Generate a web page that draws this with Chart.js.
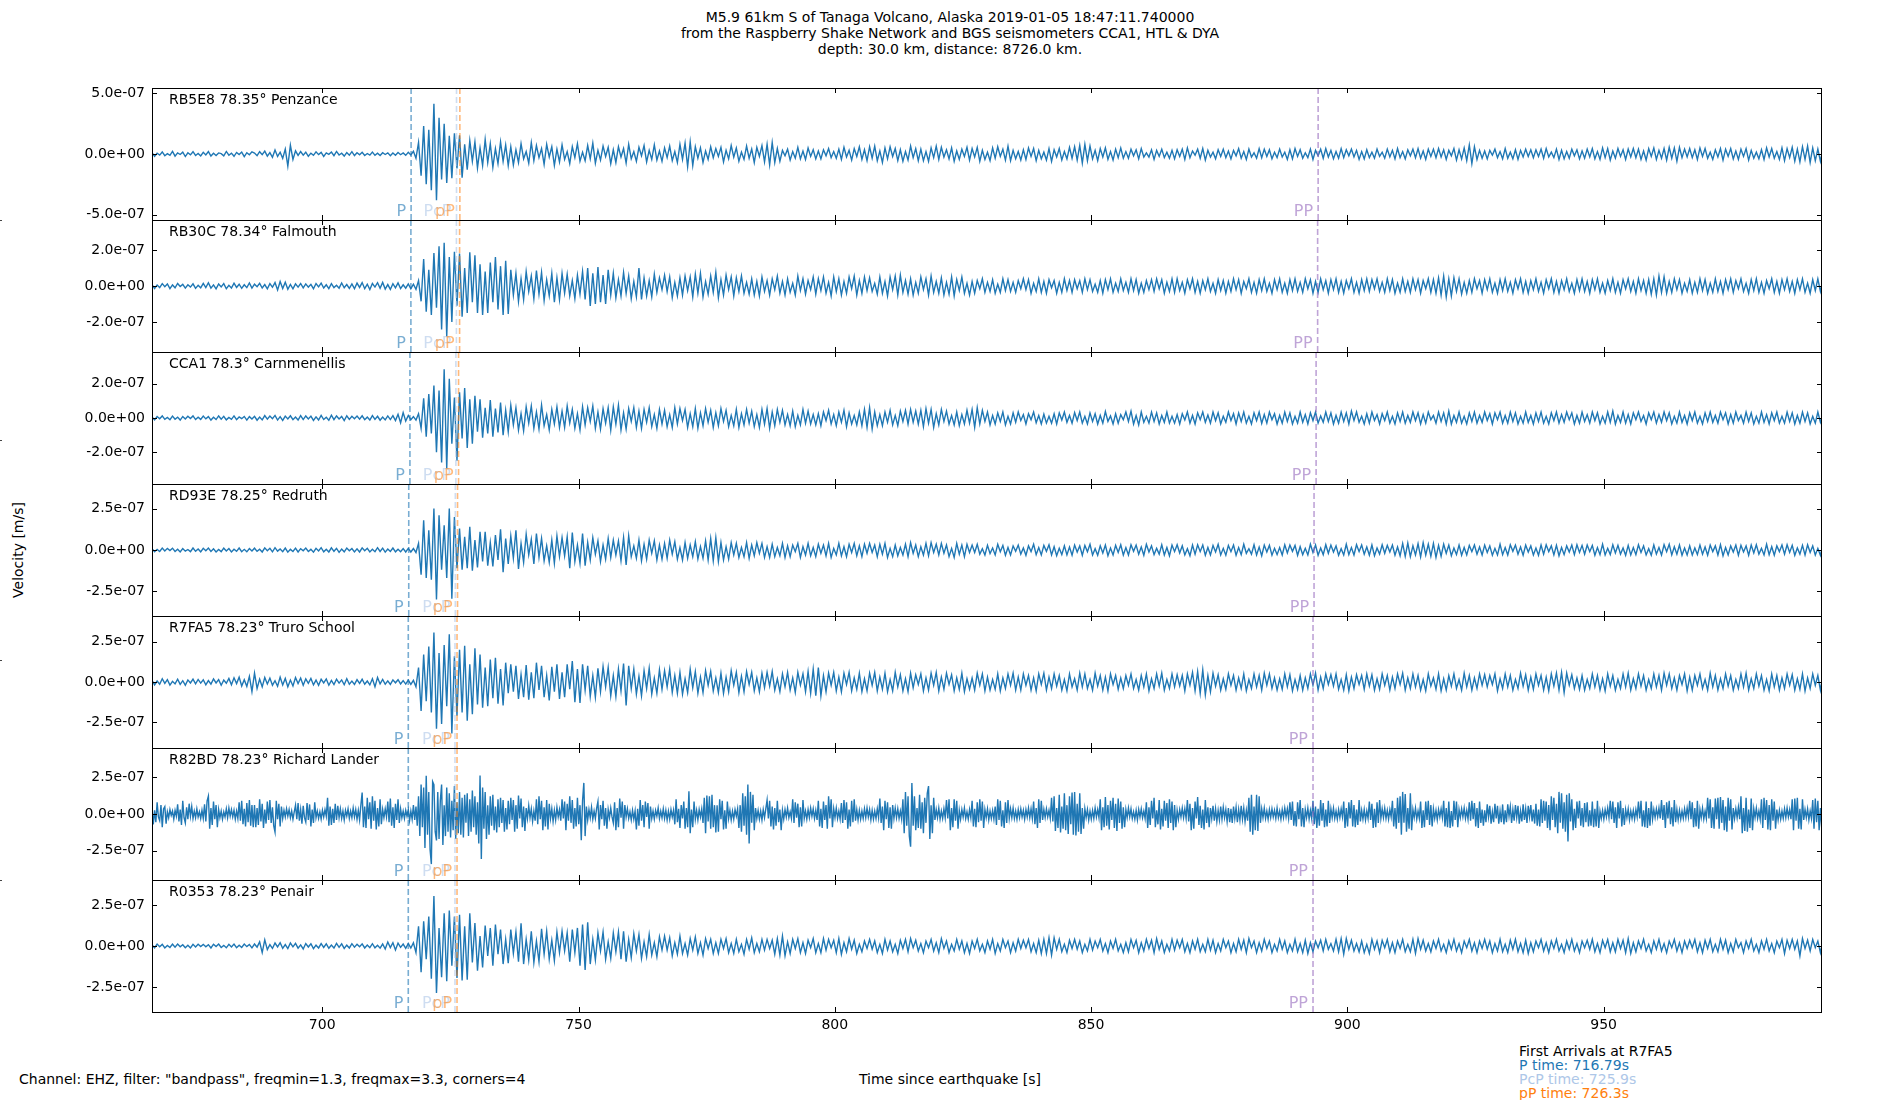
<!DOCTYPE html>
<html>
<head>
<meta charset="utf-8">
<script src="https://cdn.jsdelivr.net/npm/chart.js"></script>
<style>
html,body{margin:0;padding:0;background:#fff;}
#fig{position:relative;width:1900px;height:1100px;overflow:hidden;background:#fff;font-family:"DejaVu Sans",sans-serif;color:#000;}
.t{position:absolute;font-size:14px;white-space:nowrap;line-height:14px;}
.mk{position:absolute;left:0;width:2px;height:1px;background:#444;}
canvas{position:absolute;left:0;}
</style>
</head>
<body>
<div id="fig">
  <div class="t" style="left:0;width:1900px;top:9px;text-align:center;line-height:16px">M5.9 61km S of Tanaga Volcano, Alaska 2019-01-05 18:47:11.740000<br>from the Raspberry Shake Network and BGS seismometers CCA1, HTL &amp; DYA<br>depth: 30.0 km, distance: 8726.0 km.</div>
  <div class="t" style="left:18px;top:550px;transform:translate(-50%,-50%) rotate(-90deg);">Velocity [m/s]</div>
  <div class="t" style="left:19px;top:1072px;">Channel: EHZ, filter: "bandpass", freqmin=1.3, freqmax=3.3, corners=4</div>
  <div class="t" style="left:950px;top:1072px;transform:translateX(-50%);">Time since earthquake [s]</div>
  <div class="t" style="left:1519px;top:1044px;">First Arrivals at R7FA5</div>
  <div class="t" style="left:1519px;top:1058px;color:#1f77b4">P time: 716.79s</div>
  <div class="t" style="left:1519px;top:1072px;color:#aec7e8">PcP time: 725.9s</div>
  <div class="t" style="left:1519px;top:1086px;color:#ff7f0e">pP time: 726.3s</div>
  <div class="mk" style="top:220px"></div>
  <div class="mk" style="top:440px"></div>
  <div class="mk" style="top:660px"></div>
  <div class="mk" style="top:880px"></div>
</div>
<script>
// ---- sampling of the traces (seconds since origin) ----
const startTime = 666.79;
const sampleIntervals = [0.5, 0.5, 0.5, 0.5, 0.5, 0.25, 0.5];
const xMin = 666.79;
const xMax = 992.6;
const xTickValues = [700, 750, 800, 850, 900, 950];

// ---- station labels ----
const stationLabels = [
  "RB5E8 78.35° Penzance",
  "RB30C 78.34° Falmouth",
  "CCA1 78.3° Carnmenellis",
  "RD93E 78.25° Redruth",
  "R7FA5 78.23° Truro School",
  "R82BD 78.23° Richard Lander",
  "R0353 78.23° Penair"
];

// ---- y limits and ticks (m/s) ----
const yLimits = [5.45e-7, 3.66e-7, 3.86e-7, 4.0e-7, 4.1e-7, 4.48e-7, 4.02e-7];
const yTickSteps = [5e-7, 2e-7, 2e-7, 2.5e-7, 2.5e-7, 2.5e-7, 2.5e-7];

// ---- phase arrival times per station (s) ----
const pTimes   = [717.34, 717.30, 717.11, 716.88, 716.79, 716.79, 716.79];
const pcpTimes = [726.20, 726.18, 726.08, 725.97, 725.90, 725.90, 725.90];
const ppDepthTimes = [726.85, 726.80, 726.60, 726.40, 726.30, 726.30, 726.30];
const ppTimes  = [894.3, 894.2, 893.9, 893.5, 893.3, 893.3, 893.3];

// ---- velocity traces, units of 1e-9 m/s ----
const rb5e8 = [
12,-20,6,-9,17,-14,3,-11,22,-18,9,-4,15,-21,10,-7,19,-12,5,-16,
14,-8,20,-17,6,-12,9,3,-15,21,-10,7,-19,13,-5,16,-22,11,-6,18,
8,-14,19,-6,24,-18,12,-27,33,-20,15,-36,40,-100,72,-45,26,-12,20,-9,
15,-19,7,-11,18,-5,13,-20,9,-3,16,-14,21,-8,6,-17,12,-10,19,-13,
10,-6,14,-12,4,-9,16,-11,7,-13,11,-4,9,-15,8,-10,12,-6,9,-11,
14,-8,22,-35,95,-180,230,-250,200,-300,415,-382,300,-210,250,-240,150,-200,170,-120,
155,-195,80,-130,110,-60,100,-115,50,-95,120,-70,85,-110,45,-80,100,-60,75,-95,
60,-90,35,-70,85,-40,20,-75,95,-55,70,-30,45,-85,80,-25,60,-95,40,-65,
75,-45,20,-80,60,-30,85,-60,15,-55,70,-40,90,-75,30,-50,65,-20,55,-80,
35,-70,60,-25,45,-75,80,-40,20,-60,55,-15,70,-65,30,-45,75,-50,25,-60,
50,-30,65,-55,20,-70,80,-45,90,-105,100,-95,60,-35,50,-70,25,-45,60,-30,
45,-20,55,-65,30,-40,70,-25,50,-60,15,-45,65,-35,40,-70,55,-20,70,-65,
80,-90,95,-70,45,-60,30,-15,40,-50,20,-35,55,-40,25,-45,50,-20,35,-40,
25,-40,35,-15,45,-30,20,-35,40,-45,55,-25,30,-50,45,-20,60,-45,35,-55,
60,-35,65,-55,25,-70,50,-40,60,-20,45,-55,35,-60,20,-50,65,-30,45,-55,
40,-55,20,-60,50,-30,65,-45,55,-25,35,-40,50,-60,25,-45,40,-20,55,-50,
45,-25,55,-60,30,-45,15,-55,50,-35,60,-20,40,-50,65,-55,30,-40,20,-50,
35,-45,50,-20,45,-55,30,-40,15,-50,45,-60,35,-25,45,-50,20,-40,55,-35,
60,-50,70,-75,80,-55,65,-40,30,-55,45,-25,50,-45,20,-50,40,-30,50,-35,
20,-35,40,-15,35,-40,45,-25,10,-25,35,-45,30,-20,40,-30,15,-35,30,-40,
35,-20,40,-45,50,-30,25,-10,40,-35,45,-50,30,-25,15,-40,35,-20,40,-30,
25,-40,30,-15,45,-35,20,-45,40,-25,10,-35,45,-30,40,-20,35,-40,15,-30,
40,-25,15,-45,35,-40,45,-20,35,-35,10,-30,40,-45,30,-15,40,-35,45,-25,
30,-40,20,-35,45,-30,35,-15,40,-25,30,-45,20,-40,35,-30,15,-35,40,-20,
15,-35,40,-25,30,-40,45,-30,20,-40,35,-15,40,-30,45,-35,25,-45,40,-20,
40,-30,45,-25,35,-45,30,-15,45,-50,35,-40,50,-55,75,-80,60,-45,30,-35,
25,-40,30,-10,40,-30,20,-40,45,-35,15,-40,35,-45,30,-25,40,-20,35,-30,
35,-20,40,-35,45,-25,15,-30,40,-45,30,-40,20,-35,40,-15,35,-40,25,-35,
40,-25,45,-40,20,-45,50,-30,45,-50,25,-35,45,-20,35,-45,40,-25,45,-30,
40,-45,25,-50,45,-20,50,-45,30,-35,45,-50,55,-35,50,-60,55,-30,40,-25,
45,-30,35,-45,50,-20,45,-35,15,-45,35,-25,45,-50,40,-20,45,-40,25,-45,
40,-20,45,-50,30,-35,15,-40,35,-45,50,-25,45,-35,20,-45,50,-55,45,-30,
55,-60,40,-65,60,-45,65,-70,50,-55,40,-60,45
];

const rb30c = [
8,-14,5,-9,13,-4,11,-15,6,-10,14,-3,9,-12,7,-6,12,-13,4,-10,
15,-9,18,-12,6,-16,11,-5,13,-15,4,-11,16,-8,10,-13,7,-9,17,-12,
10,-4,15,-11,8,-16,13,-7,19,-22,25,-14,21,-18,9,-16,12,-6,14,-10,
12,-6,9,-15,14,-5,16,-11,7,-14,13,-9,4,-12,17,-10,8,-13,11,-15,
16,-8,19,-15,10,-20,14,-6,18,-13,20,-17,8,-19,13,-10,17,-14,7,-12,
12,-15,10,-18,30,-85,150,-143,90,-160,183,-120,220,-241,240,-280,160,-200,190,-110,
180,-170,100,-150,187,-90,170,-150,120,-160,80,-150,130,-90,160,-130,110,-160,140,-155,
90,-50,70,-85,40,-75,80,-30,55,-70,85,-45,75,-80,35,-55,70,-90,45,-75,
70,-40,65,-55,30,-70,60,-45,80,-75,100,-110,70,-100,105,-90,60,-100,90,-50,
70,-65,35,-55,75,-40,55,-70,25,-60,100,-75,45,-55,30,-60,65,-35,45,-20,
60,-30,50,-65,20,-55,45,-50,55,-25,50,-60,65,-40,70,-60,25,-45,55,-35,
75,-65,35,-50,60,-20,50,-55,45,-30,55,-40,20,-45,40,-50,25,-55,50,-30,
30,-50,40,-20,55,-40,25,-50,40,-35,15,-50,55,-25,40,-45,30,-20,50,-45,
40,-25,50,-40,20,-55,50,-30,40,-50,25,-40,50,-15,55,-50,30,-40,50,-25,
45,-30,15,-45,50,-40,25,-55,50,-20,55,-50,60,-35,30,-45,40,-50,20,-40,
50,-20,40,-50,55,-35,25,-40,45,-50,20,-45,50,-55,35,-25,50,-40,15,-50,
25,-40,30,-15,40,-35,20,-30,35,-40,10,-35,40,-25,35,-30,20,-35,30,-15,
40,-20,35,-40,15,-30,40,-35,25,-40,35,-10,30,-40,20,-35,40,-25,30,-35,
35,-15,30,-35,40,-20,35,-30,10,-35,30,-40,35,-20,40,-35,15,-30,40,-25,
20,-35,40,-25,35,-40,15,-35,30,-20,35,-30,40,-15,35,-40,20,-30,40,-35,
40,-25,20,-40,35,-15,40,-35,25,-40,30,-20,40,-30,15,-40,35,-25,30,-40,
25,-30,40,-20,35,-40,25,-15,40,-35,20,-40,35,-25,40,-30,15,-40,35,-20,
40,-35,15,-40,35,-25,40,-30,20,-35,40,-15,35,-40,25,-35,40,-20,30,-40,
35,-20,40,-35,25,-40,30,-15,40,-35,20,-40,35,-25,40,-30,35,-15,40,-30,
20,-35,40,-25,35,-40,15,-35,40,-30,25,-35,40,-20,35,-40,30,-15,40,-35,
35,-40,45,-50,55,-60,40,-55,45,-30,40,-45,20,-40,30,-35,40,-15,30,-40,
35,-20,40,-35,15,-40,35,-25,40,-30,20,-40,35,-15,40,-35,25,-40,30,-20,
40,-30,20,-40,35,-15,40,-35,25,-40,30,-20,40,-30,15,-40,35,-25,40,-30,
25,-40,35,-20,40,-35,15,-40,30,-25,40,-35,20,-40,35,-15,40,-30,25,-40,
40,-25,30,-40,35,-45,40,-50,55,-35,50,-40,25,-35,40,-20,35,-40,15,-30,
35,-40,20,-35,40,-25,35,-40,15,-35,40,-30,25,-40,35,-20,40,-35,30,-15,
40,-30,15,-40,35,-25,40,-35,20,-40,30,-15,40,-35,25,-40,35,-20,40,-30,
25,-40,35,-20,40,-35,15,-40,35,-25,40,-30,35
];

const cca1 = [
6,-11,9,-4,12,-8,3,-10,11,-7,5,-12,9,-6,10,-3,12,-9,5,-8,
11,-5,8,-12,4,-9,12,-7,10,-11,3,-8,12,-10,6,-4,9,-12,8,-6,
10,-13,5,-11,14,-7,12,-4,15,-12,8,-14,11,-5,13,-10,6,-12,14,-9,
12,-5,11,-14,7,-12,15,-9,4,-13,16,-10,12,-6,9,-15,13,-8,10,-4,
11,-7,13,-10,5,-12,14,-8,10,-13,6,-11,12,-9,14,-15,22,-28,32,-18,
15,-10,8,-12,25,-60,115,-110,140,-90,190,-200,160,-260,285,-295,230,-150,120,-250,
150,-120,175,-175,110,-150,130,-80,110,-115,60,-90,105,-110,55,-85,90,-100,45,-80,
75,-40,60,-70,25,-75,65,-30,70,-60,35,-65,75,-45,20,-70,50,-35,65,-55,
40,-55,70,-30,50,-60,25,-70,65,-40,60,-20,70,-60,35,-65,55,-30,60,-70,
65,-35,75,-70,30,-65,55,-20,60,-55,40,-60,50,-25,60,-50,20,-60,50,-35,
45,-50,20,-55,60,-35,55,-15,50,-55,25,-50,55,-60,30,-45,55,-25,45,-55,
30,-45,55,-20,45,-50,15,-45,50,-55,25,-40,50,-30,40,-50,20,-55,50,-35,
55,-60,35,-45,50,-25,45,-40,20,-45,40,-50,15,-40,50,-30,40,-35,20,-40,
25,-45,35,-15,45,-35,20,-45,35,-25,45,-50,30,-35,15,-40,35,-45,50,-55,
60,-65,35,-45,20,-45,35,-25,45,-40,15,-45,40,-20,45,-35,50,-25,40,-35,
45,-50,55,-30,50,-55,25,-40,50,-20,40,-35,15,-40,35,-45,20,-35,45,-30,
50,-55,60,-35,45,-20,35,-40,15,-35,30,-20,35,-40,10,-35,30,-25,35,-15,
20,-35,25,-10,35,-28,15,-35,22,-30,10,-30,25,-35,30,-12,35,-25,15,-30,
32,-15,35,-30,10,-35,30,-20,25,-35,15,-30,38,-20,12,-35,25,-30,20,-10,
35,-20,40,-35,15,-40,35,-25,10,-30,35,-20,30,-35,15,-25,35,-30,10,-30,
20,-35,25,-12,35,-30,15,-35,30,-10,35,-25,18,-30,35,-15,30,-35,10,-25,
35,-15,25,-35,30,-20,35,-30,10,-35,30,-15,35,-32,20,-30,35,-10,25,-35,
15,-30,35,-20,30,-35,10,-30,35,-25,20,-35,30,-15,35,-30,12,-25,35,-20,
30,-35,15,-30,35,-20,30,-35,40,-15,35,-25,10,-35,25,-30,35,-15,20,-35,
25,-15,35,-30,10,-35,30,-20,35,-30,15,-25,35,-15,30,-35,20,-30,35,-10,
15,-30,35,-20,30,-35,40,-35,15,-25,35,-30,10,-35,30,-20,35,-30,15,-25,
35,-15,25,-35,30,-10,35,-30,15,-30,35,-20,30,-35,10,-30,35,-25,15,-35,
30,-20,35,-30,10,-35,30,-15,35,-30,20,-25,35,-10,30,-35,15,-30,35,-20,
20,-30,35,-15,30,-35,10,-30,35,-25,40,-35,15,-25,35,-30,20,-35,30,-10,
35,-20,15,-35,30,-10,35,-30,20,-25,35,-15,30,-35,10,-30,35,-25,15,-35,
30,-15,35,-30,10,-35,30,-20,35,-25,15,-30,35,-10,30,-35,20,-30,35,-15,
15,-30,35,-20,30,-35,10,-30,35,-25,20,-35,30,-15,35,-30,10,-30,35,-20,
30,-35,15,-30,35,-20,30,-35,10,-30,35,-25,20
];

const rd93e = [
8,-11,4,-9,12,-6,10,-3,11,-9,5,-12,9,-7,3,-10,12,-8,6,-11,
10,-4,12,-9,7,-12,3,-10,11,-6,9,-12,5,-8,12,-10,4,-11,9,-6,
11,-8,5,-12,13,-4,10,-11,14,-7,6,-10,12,-13,4,-9,11,-12,8,-5,
12,-9,4,-13,10,-6,14,-11,5,-12,13,-8,10,-14,6,-11,12,-5,9,-12,
7,-12,13,-5,10,-12,4,-10,14,-9,11,-13,6,-9,12,-11,5,-10,9,-12,
10,-12,9,-15,40,-150,180,-170,120,-180,252,-300,210,-120,150,-170,252,-295,200,-110,
130,-120,80,-110,140,-125,60,-105,110,-70,110,-95,45,-100,90,-60,126,-134,70,-85,
85,-50,120,-115,40,-75,95,-30,65,-85,100,-45,70,-65,25,-75,60,-80,85,-40,
75,-35,80,-110,105,-70,30,-80,100,-95,45,-60,75,-25,55,-70,30,-55,70,-45,
60,-30,55,-65,75,-90,85,-40,25,-50,60,-65,35,-55,60,-20,55,-60,30,-55,
40,-50,60,-25,50,-55,15,-60,45,-50,30,-40,50,-55,20,-50,55,-60,70,-65,
75,-70,45,-60,20,-55,45,-30,40,-45,15,-40,45,-50,30,-35,45,-20,40,-45,
20,-45,35,-40,15,-35,40,-45,25,-40,30,-10,40,-45,20,-30,40,-35,15,-40,
35,-20,30,-35,40,-45,10,-30,40,-35,20,-40,35,-15,40,-35,25,-40,35,-20,
40,-15,30,-40,35,-25,40,-45,10,-40,30,-35,15,-30,35,-40,45,-20,30,-40,
20,-30,40,-35,45,-15,35,-30,40,-20,30,-40,10,-45,40,-25,30,-40,35,-15,
30,-15,35,-25,8,-30,28,-22,12,-30,35,-10,28,-32,15,-30,25,-8,30,-25,
12,-32,25,-10,35,-28,15,-30,28,-8,32,-30,20,-35,10,-28,25,-30,18,-32,
30,-12,25,-32,28,-10,35,-30,8,-32,25,-18,30,-35,12,-30,28,-15,32,-30,
15,-30,32,-8,30,-25,18,-32,35,-12,25,-28,10,-25,32,-30,15,-35,30,-10,
32,-18,25,-30,8,-35,30,-25,32,-10,30,-32,15,-30,28,-12,35,-30,10,-32,
28,-10,30,-32,15,-28,35,-20,8,-25,32,-30,18,-35,30,-12,28,-32,10,-28,
15,-30,32,-18,30,-8,28,-32,20,-28,10,-30,35,-15,30,-32,12,-28,32,-20,
30,-12,25,-32,8,-30,35,-28,15,-30,32,-10,30,-25,18,-32,30,-35,12,-25,
32,-20,28,-12,30,-32,18,-35,40,-38,42,-40,25,-30,38,-42,45,-30,35,-38,
40,-45,28,-38,35,-20,30,-35,12,-28,30,-32,15,-30,28,-10,30,-25,18,-30,
30,-15,25,-32,10,-30,35,-28,15,-30,32,-8,30,-25,18,-32,30,-12,25,-30,
12,-32,30,-25,32,-10,25,-30,28,-35,15,-28,25,-12,30,-28,32,-15,28,-25,
30,-10,28,-32,15,-28,35,-30,10,-28,32,-18,28,-25,12,-32,28,-30,15,-28,
32,-15,25,-30,8,-32,30,-25,15,-30,32,-10,35,-30,20,-25,30,-32,12,-30,
25,-30,12,-28,30,-25,18,-32,30,-10,25,-30,32,-35,15,-30,25,-12,30,-32,
28,-12,25,-32,30,-18,32,-25,10,-30,35,-28,20,-32,25,-10,30,-25,32,-15,
28,-32,12,-25,28,-30,32,-15,25,-30,10,-32,30
];

const r7fa5 = [
11,-18,6,-14,20,-9,15,-19,4,-12,17,-15,8,-20,13,-6,18,-11,16,-7,
14,-18,9,-13,19,-6,15,-20,12,-8,22,-17,26,-10,30,-25,14,-28,35,-60,
55,-40,18,-30,28,-12,24,-20,8,-26,30,-18,22,-30,12,-25,28,-9,24,-20,
20,-8,22,-18,12,-21,17,-6,19,-20,10,-16,18,-7,13,-17,20,-14,6,-15,
15,-9,17,-14,6,-18,20,-30,28,-12,16,-14,7,-15,13,-5,14,-12,9,-13,
12,-15,10,-30,90,-180,170,-120,220,-190,307,-290,180,-260,230,-150,297,-320,160,-210,
200,-190,225,-240,110,-200,210,-140,170,-160,90,-150,140,-100,150,-135,80,-145,120,-70,
110,-60,100,-105,45,-95,105,-110,60,-100,120,-50,100,-95,40,-115,95,-60,110,-105,
60,-95,110,-45,130,-125,80,-130,110,-50,100,-90,40,-95,85,-60,95,-30,90,-85,
40,-90,80,-55,115,-145,100,-40,80,-75,35,-85,70,-40,85,-75,25,-70,75,-45,
70,-30,80,-65,40,-70,60,-75,20,-65,80,-35,65,-70,30,-65,70,-20,65,-55,
25,-65,55,-70,30,-60,70,-20,60,-65,35,-60,65,-15,60,-55,25,-60,55,-35,
60,-25,65,-50,20,-60,50,-30,60,-50,25,-65,60,-20,50,-60,65,-70,80,-85,
90,-85,40,-60,55,-20,60,-55,30,-60,55,-15,60,-55,25,-45,55,-60,20,-55,
55,-20,60,-55,30,-45,55,-60,15,-55,60,-30,45,-55,20,-60,55,-35,45,-15,
50,-55,25,-50,55,-20,60,-55,30,-45,55,-15,45,-55,25,-45,55,-60,20,-45,
25,-50,55,-20,50,-55,30,-50,15,-45,50,-55,25,-40,50,-20,55,-50,30,-50,
50,-20,40,-50,25,-55,50,-15,55,-50,30,-40,50,-25,40,-50,15,-55,50,-30,
20,-50,55,-30,50,-40,15,-50,55,-25,40,-50,30,-55,50,-15,40,-45,25,-40,
40,-20,50,-40,15,-50,40,-30,50,-55,20,-40,50,-25,55,-50,15,-40,50,-30,
45,-25,40,-55,50,-20,60,-55,65,-70,75,-80,40,-60,55,-25,45,-50,20,-45,
50,-20,40,-50,25,-40,50,-55,15,-40,50,-30,40,-50,55,-20,50,-40,25,-50,
20,-45,50,-30,45,-55,15,-45,40,-50,25,-40,50,-20,55,-50,30,-40,50,-15,
45,-25,50,-45,15,-50,45,-55,30,-40,45,-15,40,-45,50,-25,45,-50,20,-45,
50,-20,40,-50,30,-40,50,-15,55,-50,25,-40,50,-30,40,-50,15,-55,50,-25,
25,-45,50,-55,20,-50,40,-25,50,-40,15,-50,55,-30,40,-50,25,-40,50,-20,
45,-30,40,-15,50,-55,20,-40,50,-30,40,-50,15,-40,55,-25,45,-50,30,-45,
50,-20,40,-50,30,-55,50,-25,55,-50,60,-65,55,-20,45,-40,25,-45,40,-50,
15,-40,50,-30,40,-50,20,-55,50,-25,40,-50,15,-40,50,-30,55,-50,20,-40,
50,-25,40,-50,15,-40,50,-30,40,-50,55,-20,50,-40,25,-50,40,-15,50,-55,
30,-50,40,-20,50,-40,15,-50,55,-30,40,-50,20,-40,50,-25,40,-50,15,-40,
50,-30,55,-50,20,-40,50,-25,40,-50,15,-55,50,-30,40,-50,25,-40,50,-20,
45,-50,20,-45,50,-55,25,-40,50,-20,40,-50,45
];

// R82BD is noisier and is listed every 0.25 s
const r82bd = [
40,-70,25,-55,80,-20,-45,60,-90,35,50,-65,15,-25,30,-10,20,-35,25,-15,65,-50,30,-75,90,-25,-60,45,-35,70,-15,50,-30,20,-25,35,-20,15,-30,25,
-30,65,-50,90,122,-100,40,-75,85,-35,60,-90,30,-25,20,-35,15,-20,35,-25,40,-15,30,-20,25,-35,20,-30,80,-45,90,-70,35,-85,75,-55,95,-80,60,-90,
60,-90,40,-75,100,-50,70,-95,30,-65,85,-40,95,-60,45,-80,-122,90,-35,70,-85,50,-30,25,-20,35,-15,30,-25,20,-35,15,60,-35,75,-45,30,-65,55,-25,
-55,75,-40,65,-85,30,-60,80,-25,20,-30,15,-35,25,-20,30,-15,110,-80,50,-75,35,-60,70,-40,55,-25,35,-30,20,-40,25,-15,35,-30,20,-25,40,-20,30,
-35,25,-40,60,145,-90,50,-95,110,-35,80,-100,120,-45,90,-105,40,-85,100,-70,30,-25,35,-20,85,-55,105,-80,45,-95,70,-40,100,-60,35,-25,20,-30,25,-15,
30,-45,20,-35,60,-40,50,-80,120,-150,200,-90,180,-230,260,-140,150,-240,-340,220,200,-120,-180,150,-170,90,200,-210,60,-150,180,-120,140,-160,90,-110,190,-170,80,-130,
150,-140,110,-160,130,-60,140,-150,100,-120,160,-90,120,-140,80,-200,262,-305,180,-100,150,-170,60,-140,120,-80,130,-110,50,-125,100,-90,110,-60,95,-120,40,-105,90,-70,
110,-40,95,-120,60,-100,125,-30,105,-90,50,-115,40,-30,55,-25,35,-50,20,-45,100,-70,120,-35,90,-110,45,-85,95,-105,70,-30,35,-50,25,-40,45,-20,30,-45,
100,-30,85,-110,70,-45,120,-60,95,-100,40,-85,110,-70,60,-178,90,211,-150,50,-40,30,-25,45,-35,20,-30,40,85,-105,60,-35,90,-80,40,-100,30,-25,40,-20,
-60,80,-110,40,-90,105,-25,85,-100,60,-20,35,-30,15,-40,25,-35,20,-105,35,-80,95,-45,60,-90,85,-20,75,-100,50,-30,20,-35,25,-15,40,-30,20,-25,35,
-30,25,-40,20,-35,30,-20,25,-70,100,-55,35,-95,60,-30,85,-100,40,-90,155,-130,30,-90,85,-35,25,-40,30,-20,35,-60,110,-130,125,-50,120,-100,130,-90,60,
-125,60,-120,100,-35,90,-105,25,-100,85,-30,25,-40,20,-35,30,-15,35,-95,60,-120,140,-80,120,-140,200,-200,150,-60,130,-110,40,-30,25,-35,20,-40,30,-25,35,
95,-30,90,-85,50,-105,40,-80,90,-55,30,-110,25,-35,30,-20,40,-25,15,-30,100,-60,80,-25,70,-90,45,-85,95,-30,20,-35,30,-25,40,-15,35,-30,25,-40,
90,-85,35,-95,85,-40,60,-100,120,-30,100,-90,35,-25,40,-30,20,-35,75,-60,95,-40,80,-100,30,-85,90,-55,100,-45,30,-40,25,-35,20,-30,35,-25,40,-20,
30,-40,25,-35,20,-30,35,-25,105,-60,50,-110,90,-35,80,-95,45,-100,60,-30,40,-25,35,-30,20,-35,100,-130,150,-80,120,-150,-222,211,-80,120,-110,40,-95,130,
-100,80,-130,110,-60,140,190,-170,60,-130,110,-40,30,-25,40,-35,20,-30,35,-25,95,-30,100,-110,40,-90,100,-45,90,-100,25,-35,30,-20,40,-30,15,-35,30,-25,
90,-85,35,-90,80,-55,100,-45,85,-95,30,-25,35,-40,20,-30,25,-35,50,-75,100,-40,90,-85,25,-95,80,-60,95,-30,35,-25,40,-30,20,-35,30,-25,35,-20,
25,-35,30,-20,40,-25,35,-30,85,-70,40,-95,100,-60,90,-40,30,-25,35,-20,25,-30,110,-50,120,-115,40,-95,130,-125,50,-100,140,-110,60,-135,120,-70,145,-140,
150,-145,70,-120,140,-135,40,-100,35,-25,30,-40,20,-35,25,-30,40,-20,30,-25,100,-110,45,-90,115,-80,60,-105,90,-40,110,-95,70,-115,105,-60,85,-100,45,-90,
30,-25,40,-20,35,-30,15,-35,25,-40,30,-20,35,-25,20,-30,80,-95,45,-75,90,-30,110,-90,25,-70,95,-105,35,-85,90,-45,75,-95,100,-60,85,-110,60,-90,
25,-35,30,-20,40,-25,35,-30,95,-50,70,-110,40,-100,85,-30,115,-75,55,-95,30,-105,95,-60,45,-90,40,-30,55,-45,35,-50,25,-40,50,-35,45,-25,30,-50,
40,-55,35,-60,50,-30,45,-55,30,-40,55,-35,40,-50,25,-45,110,-120,130,-140,50,-110,130,-115,120,-60,35,-25,40,-30,20,-35,30,-25,35,-20,25,-30,40,-25,
20,-35,30,-25,40,-20,35,-30,80,-40,85,-80,20,-85,80,-35,95,-85,40,-90,30,-25,40,-35,25,-30,90,-70,50,-95,35,-80,95,-45,75,-90,30,-85,90,-60,
35,-25,40,-30,20,-35,30,-25,35,-20,85,-95,40,-85,80,-30,95,-85,60,-90,30,-75,95,-50,25,-35,30,-40,20,-30,85,-40,70,-95,35,-90,80,-60,95,-30,
35,-25,40,-30,25,-35,30,-20,90,-85,40,-100,110,-60,120,-140,150,-60,135,-120,40,-100,140,-110,30,-25,40,-35,20,-30,85,-95,25,-90,85,-40,90,-75,60,-85,
35,-30,25,-40,30,-20,35,-25,90,-85,40,-90,85,-95,20,-85,90,-40,85,-90,30,-25,35,-20,40,-30,25,-35,80,-45,90,-35,75,-85,40,-95,85,-60,30,-80,
25,-55,65,-20,55,-65,15,-55,70,-30,55,-65,20,-55,65,-70,25,-55,65,-15,50,-60,30,-45,60,-25,55,-65,20,-50,65,-40,35,-60,55,-20,60,-50,30,-65,
70,-80,30,-85,100,-60,90,-45,85,-95,60,-110,120,-40,110,-90,70,-130,150,-60,140,-100,80,-120,130,-186,140,-50,100,-110,35,-95,85,-30,90,-80,40,-90,75,-55,
80,-85,25,-80,85,-90,35,-85,90,-95,20,-30,25,-35,30,-20,40,-25,90,-35,85,-60,45,-95,80,-30,90,-85,40,-75,30,-25,35,-40,20,-30,25,-35,30,-20,
85,-30,90,-85,25,-90,85,-95,40,-80,85,-35,30,-25,35,-20,40,-30,95,-40,60,-95,80,-30,90,-70,45,-85,95,-55,30,-40,25,-35,20,-30,35,-25,40,-20,
90,-35,80,-90,40,-85,90,-100,30,-25,40,-35,20,-30,110,-30,100,-95,45,-100,105,-35,110,-100,115,-60,95,-110,50,-120,110,-45,100,-105,40,-30,35,-25,45,-35,
120,-130,40,-115,110,-120,30,-95,105,-110,35,-25,40,-30,20,-35,100,-95,110,-40,95,-105,60,-110,100,-45,85,-100,30,-40,25,-35,20,-30,35,-25,40,-20,30,-35,
100,-110,105,-45,110,-100,35,-105,100,-40,30,-25,35,-40,20,-30,95,-100,105,-55,90,-110,40,-95,85
];

const r0353 = [
6,-11,12,-4,10,-12,3,-9,11,-7,12,-5,8,-11,4,-12,10,-6,11,-3,
10,-5,8,-12,11,-3,12,-9,4,-11,10,-6,12,-10,5,-9,12,-4,9,-11,
12,-7,25,-40,38,-22,8,-15,18,-6,20,-14,9,-16,18,-5,16,-13,7,-18,
15,-6,14,-16,5,-12,15,-9,13,-14,6,-12,16,-8,13,-15,5,-12,14,-7,
11,-5,13,-12,6,-10,14,-11,4,-13,12,-18,24,-10,20,-24,18,-8,12,-14,
16,-12,20,-40,120,-160,150,-80,180,-200,304,-286,110,-190,200,-214,216,-120,180,-195,
190,-210,120,-205,200,-100,140,-150,60,-130,125,-60,110,-120,130,-50,100,-110,40,-105,
100,-45,85,-95,138,-110,40,-85,90,-100,30,-95,105,-50,90,-80,35,-90,85,-40,
90,-30,80,-95,100,-40,110,-120,130,-146,144,-110,40,-85,80,-30,85,-80,25,-75,
80,-35,85,-80,90,-95,40,-70,75,-30,70,-75,25,-65,70,-55,20,-65,55,-25,
60,-25,50,-60,20,-50,60,-45,15,-55,45,-25,55,-45,20,-55,45,-15,40,-45,
20,-45,40,-15,45,-40,15,-45,40,-35,10,-50,40,-20,50,-40,15,-35,40,-25,
40,-15,35,-50,45,-55,60,-60,25,-45,40,-15,45,-40,20,-45,35,-10,45,-40,
15,-40,45,-25,40,-10,35,-40,45,-50,20,-35,45,-20,35,-45,10,-35,30,-15,
40,-20,30,-40,10,-45,40,-25,30,-35,10,-45,35,-15,40,-35,45,-10,35,-30,
15,-40,30,-10,40,-30,20,-40,45,-15,30,-40,10,-30,40,-20,30,-40,15,-45,
30,-15,40,-30,10,-40,30,-20,40,-45,15,-30,40,-10,30,-40,20,-30,40,-15,
35,-10,40,-35,15,-40,35,-45,40,-45,50,-55,50,-20,40,-35,10,-40,35,-15,
40,-20,30,-40,10,-30,40,-25,30,-10,40,-30,15,-40,30,-15,40,-30,10,-40,
20,-35,40,-10,35,-40,20,-30,40,-15,35,-40,45,-20,30,-40,10,-30,40,-25,
35,-10,40,-35,15,-40,30,-20,40,-35,10,-35,40,-25,35,-40,15,-30,40,-10,
30,-40,15,-35,40,-20,35,-40,45,-10,30,-40,20,-30,40,-15,30,-40,10,-30,
40,-20,30,-40,10,-30,40,-35,15,-40,35,-45,20,-35,30,-10,35,-30,40,-20,
15,-30,40,-35,45,-50,45,-20,35,-30,15,-35,30,-40,10,-45,40,-20,30,-40,
35,-10,40,-35,20,-40,30,-15,40,-35,10,-35,40,-45,45,-20,35,-30,15,-35,
30,-15,40,-30,10,-40,30,-20,40,-30,15,-40,30,-10,40,-30,20,-40,30,-15,
40,-20,30,-40,15,-30,40,-35,10,-40,35,-20,40,-35,15,-40,35,-45,20,-35,
30,-10,40,-30,20,-40,30,-15,40,-30,10,-40,30,-20,40,-30,15,-40,30,-10,
35,-20,40,-35,15,-40,35,-10,40,-35,20,-35,40,-15,35,-40,45,-45,20,-35,
30,-15,40,-30,10,-40,30,-20,40,-30,15,-40,30,-10,40,-30,20,-40,30,-15,
35,-10,40,-35,20,-40,35,-15,40,-35,10,-35,40,-20,35,-40,15,-35,40,-10,
20,-40,30,-15,40,-30,10,-40,30,-20,40,-30,15,-40,30,-10,40,-45,35,-15,
40,-20,30,-60,45,-15,35,-30,40,-10,30,-40,35
];

const traces = [rb5e8, rb30c, cca1, rd93e, r7fa5, r82bd, r0353];

// ---- layout ----
const plotLeft = 152, plotRight = 1822, plotTop = 88, panelHeight = 132;
const FONT = '"DejaVu Sans", sans-serif';

function sciLabel(v) {
  if (Math.abs(v) < 1e-15) v = 0;
  const s = v.toExponential(1);
  const parts = s.split('e');
  const sign = parts[1][0] === '-' ? '-' : '+';
  const digits = parts[1].replace(/[+-]/, '');
  return parts[0] + 'e' + sign + digits.padStart(2, '0');
}

const phases = [
  { name: 'P',   times: pTimes,       color: 'rgba(31,119,180,0.6)' },
  { name: 'PcP', times: pcpTimes,     color: 'rgba(174,199,232,0.6)' },
  { name: 'pP',  times: ppDepthTimes, color: 'rgba(255,127,14,0.55)' },
  { name: 'PP',  times: ppTimes,      color: 'rgba(148,103,189,0.6)' }
];

const fig = document.getElementById('fig');

traces.forEach((trace, k) => {
  const last = k === traces.length - 1;
  const canvas = document.createElement('canvas');
  const padTop = 8, padBottom = last ? 4 : 8, xAxisH = last ? 28 : 0;
  const h = padTop + panelHeight + padBottom + xAxisH;
  canvas.width = 1900;
  canvas.height = h;
  canvas.style.width = '1900px';
  canvas.style.height = h + 'px';
  canvas.style.top = (plotTop + k * panelHeight - padTop) + 'px';
  fig.appendChild(canvas);

  const dt = sampleIntervals[k];
  const points = trace.map((v, i) => ({ x: startTime + i * dt, y: v * 1e-9 }));
  const step = yTickSteps[k];
  const yTicks = [-step, 0, step];

  const panelPlugin = {
    id: 'panel' + k,
    afterDatasetsDraw(chart) {
      const ctx = chart.ctx, a = chart.chartArea;
      const xs = chart.scales.x, ys = chart.scales.y;
      ctx.save();
      phases.forEach(ph => {
        const px = xs.getPixelForValue(ph.times[k]);
        ctx.strokeStyle = ph.color;
        ctx.lineWidth = 1.6;
        ctx.setLineDash([6, 3]);
        ctx.beginPath();
        ctx.moveTo(px, a.top);
        ctx.lineTo(px, a.bottom);
        ctx.stroke();
        ctx.setLineDash([]);
        ctx.fillStyle = ph.color;
        ctx.font = '16px ' + FONT;
        ctx.textAlign = 'right';
        ctx.textBaseline = 'alphabetic';
        ctx.fillText(ph.name, px - 5, a.bottom - 4);
      });
      ctx.strokeStyle = '#000';
      ctx.lineWidth = 1;
      ctx.strokeRect(a.left + 0.5, a.top + 0.5, a.right - a.left - 1, a.bottom - a.top);
      ctx.beginPath();
      xTickValues.forEach(v => {
        const px = Math.round(xs.getPixelForValue(v)) + 0.5;
        ctx.moveTo(px, a.top); ctx.lineTo(px, a.top + 5);
        ctx.moveTo(px, a.bottom); ctx.lineTo(px, a.bottom - 5);
      });
      yTicks.forEach(v => {
        const py = Math.round(ys.getPixelForValue(v)) + 0.5;
        ctx.moveTo(a.left, py); ctx.lineTo(a.left + 5, py);
        ctx.moveTo(a.right, py); ctx.lineTo(a.right - 5, py);
      });
      ctx.stroke();
      ctx.fillStyle = '#000';
      ctx.font = '14px ' + FONT;
      ctx.textAlign = 'left';
      ctx.textBaseline = 'middle';
      ctx.fillText(stationLabels[k], a.left + 17, a.top + 12);
      ctx.restore();
    }
  };

  new Chart(canvas, {
    type: 'line',
    data: {
      datasets: [{
        data: points,
        borderColor: '#1f77b4',
        borderWidth: 1.4,
        pointRadius: 0,
        tension: 0,
        fill: false
      }]
    },
    options: {
      responsive: false,
      animation: false,
      events: [],
      layout: { padding: { top: padTop, bottom: padBottom, left: 0, right: 1900 - plotRight } },
      plugins: { legend: { display: false }, tooltip: { enabled: false } },
      scales: {
        x: {
          type: 'linear',
          min: xMin,
          max: xMax,
          display: last,
          grid: { display: false, drawTicks: false },
          border: { display: false },
          ticks: { color: '#000', font: { family: FONT, size: 14 }, padding: 5, autoSkip: false, maxRotation: 0 },
          afterBuildTicks: s => { s.ticks = xTickValues.map(v => ({ value: v })); },
          afterFit: s => { s.height = xAxisH; s.paddingLeft = 0; s.paddingRight = 0; }
        },
        y: {
          type: 'linear',
          min: -yLimits[k],
          max: yLimits[k],
          grid: { display: false, drawTicks: false },
          border: { display: false },
          ticks: { color: '#000', font: { family: FONT, size: 14 }, padding: 7, callback: v => sciLabel(v) },
          afterBuildTicks: s => { s.ticks = yTicks.map(v => ({ value: v })); },
          afterFit: s => { s.width = plotLeft; s.paddingTop = 0; s.paddingBottom = 0; }
        }
      }
    },
    plugins: [panelPlugin]
  });
});
</script>
</body>
</html>
